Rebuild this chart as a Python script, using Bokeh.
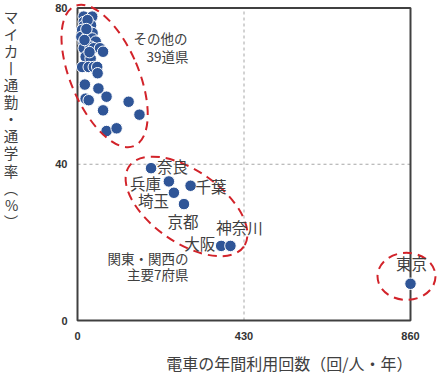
from bokeh.plotting import figure
from bokeh.models import Range1d, FixedTicker, Title, ColumnDataSource
from bokeh.embed import file_html
from bokeh.resources import INLINE
from bokeh.core.properties import value

# ---------------- data ----------------
other_x = [16, 38, 16, 35, 16, 12, 29, 39, 10, 25, 38, 47, 16, 16, 34, 42, 58, 66,
           21, 34, 12, 29, 42, 51, 52, 19, 54, 75, 21, 29, 132, 66, 160, 75, 101,
           26, 23, 18, 31]
other_y = [77.8, 77.8, 76.4, 75.6, 75.4, 74.4, 74.1, 73.6, 72.6, 72.6, 72.2, 71.4,
           71.0, 69.7, 70.1, 69.7, 69.7, 68.8, 67.5, 67.1, 64.9, 64.9, 64.9, 64.9,
           63.3, 60.4, 59.4, 57.3, 56.8, 56.4, 56.0, 53.8, 52.7, 48.5, 49.2,
           76.9, 74.6, 71.8, 68.7]

pref_names = ["奈良", "兵庫", "千葉", "埼玉", "京都", "大阪", "神奈川"]
pref_x = [190, 236, 292, 249, 275, 371, 395]
pref_y = [39.0, 35.6, 34.5, 32.7, 29.8, 19.1, 19.1]

tokyo_name = ["東京"]
tokyo_x = [860]
tokyo_y = [9.4]

x_ticks = [0, 430, 860]
y_ticks = [0, 40, 80]

x_title = "電車の年間利用回数（回/人・年）"
y_title = "マイカー通勤・通学率（%）"
group_other = ["その他の", "39道県"]
group_major = ["関東・関西の", "主要7府県"]

# ---------------- styles ----------------
DOT = "#2f5597"
RED = "#d2232a"
TXT = "#404040"
JP = value("Noto Sans CJK JP")

# label anchors/offsets for each prefecture label (style only)
pref_align = ["left", "right", "left", "right", "center", "right", "center"]
pref_base = ["middle", "middle", "middle", "middle", "top", "middle", "bottom"]
pref_dx = [6, -8, 5, -5, -1, -6, 9]
pref_dy = [-2, 2, 0, 7, 6, -3, -8]

# ---------------- layout ----------------
W, H = 438, 382
FL, FT, FB = 57, 0, 322        # frame left / top / bottom (canvas px)
X0, X1 = 77, 410               # canvas px of x=0 and x=860
Y0, Y80 = 320, 7.5             # canvas px of y=0 and y=80
kx = (X1 - X0) / x_ticks[-1]
ky = (Y0 - Y80) / y_ticks[-1]

def dx(px):  # canvas px -> data x (for annotation placement)
    return (px - X0) / kx

def dy(py):  # canvas px -> data y
    return (Y0 - py) / ky

p = figure(width=W, height=H, output_backend="svg", toolbar_location=None,
           x_range=Range1d(dx(FL), dx(W)),
           y_range=Range1d(dy(FB), dy(FT)),
           min_border_left=FL, min_border_right=0, min_border_top=FT,
           min_border_bottom=H - FB)
p.outline_line_color = None
p.background_fill_color = "white"
p.border_fill_color = "white"
p.grid.visible = False

for ax, ticks, standoff in ((p.xaxis, x_ticks, 9), (p.yaxis, y_ticks, -10)):
    ax.ticker = FixedTicker(ticks=ticks)
    ax.axis_line_color = None
    ax.major_tick_line_color = None
    ax.minor_tick_line_color = None
    ax.major_tick_out = 0
    ax.major_tick_in = 0
    ax.minor_tick_out = 0
    ax.major_label_text_font = "Liberation Sans"
    ax.major_label_text_font_style = "bold"
    ax.major_label_text_font_size = "11px"
    ax.major_label_text_color = "#333333"
    ax.major_label_standoff = standoff

# vertical (stacked) y-axis title
vert = {"ー": "丨", "（": "︵", "）": "︶"}
p.yaxis.axis_label = "\n".join([vert.get(c, c) for c in y_title] + [""] * 5)
p.yaxis.axis_label_orientation = "horizontal"
p.yaxis.axis_label_standoff = 34
p.yaxis.axis_label_text_font = "Noto Sans CJK JP"
p.yaxis.axis_label_text_font_style = "normal"
p.yaxis.axis_label_text_font_size = "14.5px"
p.yaxis.axis_label_text_color = TXT
p.yaxis.axis_label_text_line_height = 0.81

# x-axis title
p.add_layout(Title(text=x_title, align="right", offset=26, standoff=13,
                   text_font="Noto Sans CJK JP", text_font_style="normal",
                   text_font_size="16px", text_color=TXT), "below")

# dashed grid lines inside the box (at the middle ticks)
p.segment(x0=[x_ticks[1], x_ticks[0]], y0=[y_ticks[0], y_ticks[1]],
          x1=[x_ticks[1], x_ticks[2]], y1=[y_ticks[2], y_ticks[1]],
          line_color="#a6a6a6", line_width=1, line_dash="3 3")

# plot box
p.quad(left=[x_ticks[0]], right=[x_ticks[-1]], bottom=[y_ticks[0]], top=[y_ticks[-1]],
       fill_color=None, line_color="#404040", line_width=2)

# points
p.scatter(other_x, other_y, size=11.5, fill_color=DOT, line_color="white", line_width=1)
p.scatter(pref_x, pref_y, size=11.5, fill_color=DOT, line_color="white", line_width=1)
p.scatter(tokyo_x, tokyo_y, size=11.5, fill_color=DOT, line_color="white", line_width=1)

# group ellipses
p.ellipse(x=[70, 281.5, 849.7], y=[62.6, 29.2, 11.3],
          width=[68, 140, 58], height=[152, 72, 47],
          angle=[0.401, -0.611, 0.0],
          width_units="screen", height_units="screen",
          fill_color=None, line_color=RED, line_width=2, line_dash="9 6")

# prefecture labels
lab = ColumnDataSource(dict(x=pref_x + tokyo_x, y=pref_y + tokyo_y,
                            t=pref_names + tokyo_name,
                            a=pref_align + ["center"], b=pref_base + ["bottom"],
                            dx=pref_dx + [1], dy=pref_dy + [-10]))
p.text(x="x", y="y", text="t", source=lab, text_align="a", text_baseline="b",
       x_offset="dx", y_offset="dy", text_font=JP, text_font_size="15.5px",
       text_color=TXT)

# group captions
cap = ColumnDataSource(dict(x=[dx(187), dx(188), dx(188), dx(188)],
                            y=[dy(37.5), dy(55), dy(257), dy(273)],
                            t=group_other + group_major))
p.text(x="x", y="y", text="t", source=cap, text_align="right",
       text_baseline="middle", text_font=JP, text_font_size="13.5px",
       text_color=TXT)

open("out.html", "w").write(file_html(p, INLINE))
